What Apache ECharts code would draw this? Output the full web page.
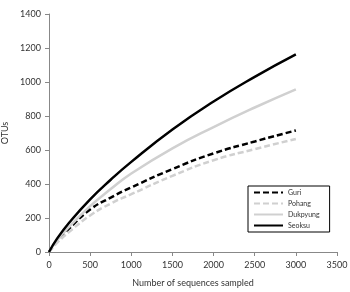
<!DOCTYPE html>
<html>
<head>
<meta charset="utf-8">
<script src="https://cdn.jsdelivr.net/npm/echarts@6/dist/echarts.min.js"></script>
<style>
  html, body { margin: 0; padding: 0; background: #fff; }
  #main { width: 350px; height: 292px; }
</style>
</head>
<body>
<div id="main"></div>
<script>
// sequences sampled (x) and OTUs per site
var sampled  = [0, 100, 250, 500, 750, 1000, 1500, 2000, 2500, 3000];
var guri     = [0, 65, 140, 250, 320, 380, 488, 580, 650, 715];
var pohang   = [0, 55, 120, 215, 285, 340, 448, 540, 605, 665];
var dukpyung = [0, 70, 150, 270, 370, 462, 610, 735, 850, 957];
var seoksu   = [0, 80, 175, 310, 425, 530, 720, 885, 1030, 1162];

var font = 'Lato';

function pairs(ys){
    return sampled.map(function(x, i){ return [x, ys[i]]; });
}

function line(name, ys, color, type){
    return {
        name: name,
        type: 'line',
        data: pairs(ys),
        smooth: true,
        symbol: 'none',
        lineStyle: { color: color, width: 2.5, type: type },
        itemStyle: { color: color }
    };
}

var chart = echarts.init(document.getElementById('main'));
chart.setOption({
    animation: false,
    textStyle: { fontFamily: font },
    grid: { left: 49, right: 13, top: 14, bottom: 40, containLabel: false, outerBoundsMode: 'none' },
    legend: {
        orient: 'vertical',
        left: 248,
        top: 186,
        width: 79,
        itemWidth: 29,
        itemHeight: 8,
        itemGap: 4,
        padding: [3, 10, 3, 5],
        borderColor: '#000',
        borderWidth: 1,
        itemStyle: { opacity: 0 },
        textStyle: { fontSize: 7, color: '#333', fontFamily: font },
        data: ['Guri', 'Pohang', 'Dukpyung', 'Seoksu']
    },
    xAxis: {
        type: 'value',
        min: 0, max: 3500, interval: 500,
        name: 'Number of sequences sampled',
        nameLocation: 'middle',
        nameGap: 27,
        nameTextStyle: { fontSize: 9, color: '#333' },
        axisLine: { lineStyle: { color: '#888' } },
        axisTick: { lineStyle: { color: '#888' }, length: 4 },
        axisLabel: { fontSize: 9, color: '#333', margin: 9, formatter: function(v){ return String(v); } },
        splitLine: { show: false }
    },
    yAxis: {
        type: 'value',
        min: 0, max: 1400, interval: 200,
        name: 'OTUs',
        nameLocation: 'middle',
        nameGap: 33,
        nameTextStyle: { fontSize: 9, color: '#333' },
        axisLine: { show: true, lineStyle: { color: '#888' } },
        axisTick: { show: true, lineStyle: { color: '#888' }, length: 4 },
        axisLabel: { fontSize: 9, color: '#333', margin: 8, formatter: function(v){ return String(v); } },
        splitLine: { show: false }
    },
    series: [
        line('Guri', guri, '#000', [6, 3]),
        line('Pohang', pohang, '#d0d0d0', [6, 3]),
        line('Dukpyung', dukpyung, '#d0d0d0', 'solid'),
        line('Seoksu', seoksu, '#000', 'solid')
    ]
});
</script>
</body>
</html>
